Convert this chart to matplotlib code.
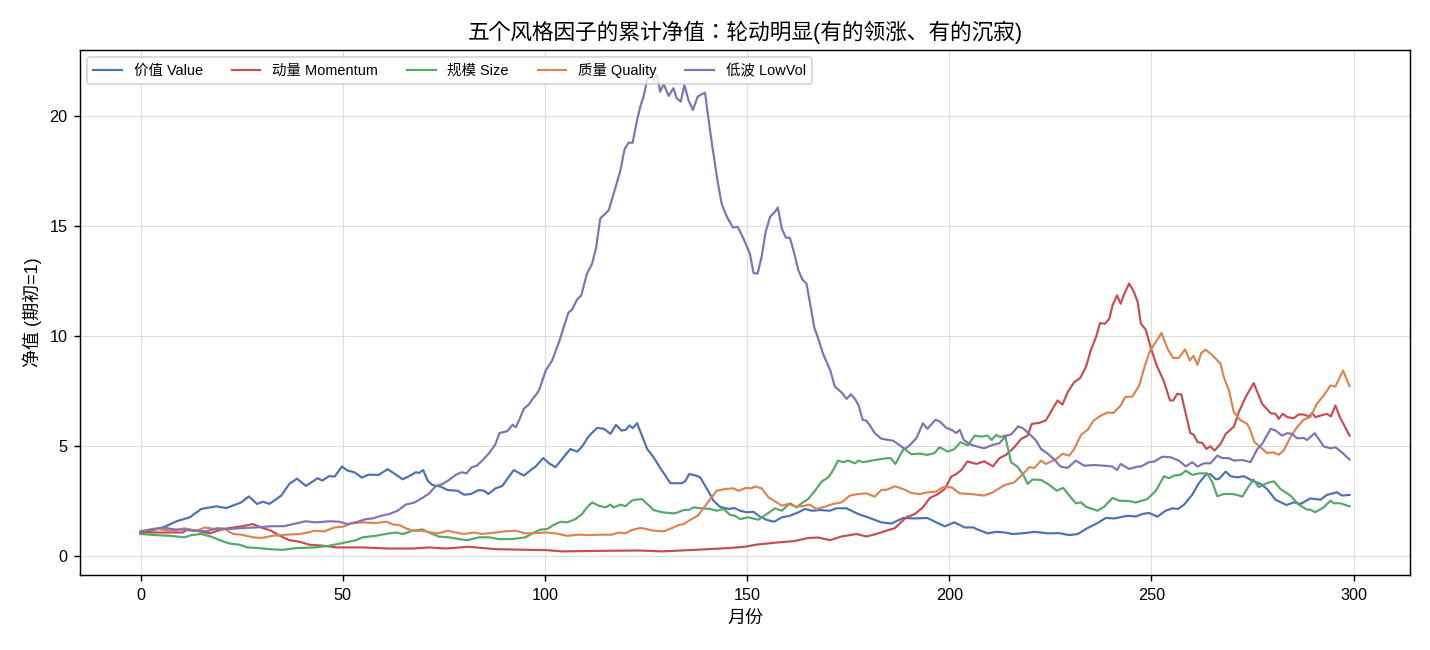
import matplotlib
matplotlib.use("Agg")
import matplotlib.pyplot as plt

plt.rcParams['font.family'] = ['Liberation Sans', 'Noto Sans CJK SC', 'DejaVu Sans']
plt.rcParams['axes.unicode_minus'] = False

title = "五个风格因子的累计净值：轮动明显(有的领涨、有的沉寂)"
xlabel = "月份"
ylabel = "净值 (期初=1)"
series_names = ["价值 Value", "动量 Momentum", "规模 Size", "质量 Quality", "低波 LowVol"]
colors = ["#4C72B0", "#C44E52", "#55A868", "#DD8452", "#8172B3"]

# (month, NAV) points
value_pts = [(0,1.0),(5.6,1.29),(8.9,1.57),(12.2,1.75),(15,2.13),(18.8,2.25),(21.2,2.17),(24.9,2.43),(26.8,2.7),(28.8,2.36),(30.3,2.46),(31.9,2.36),(34.8,2.74),(36.8,3.27),(38.7,3.51),(40.9,3.18),(43.8,3.53),(44.9,3.42),(46.7,3.63),(48,3.6),(49.8,4.06),(51.2,3.88),(52.9,3.8),(54.7,3.56),(56.4,3.69),(58.9,3.68),(61.1,3.94),(62.7,3.75),(64.8,3.48),(66.4,3.62),(68.1,3.8),(68.9,3.77),(69.9,3.9),(71,3.42),(72.2,3.22),(74.2,3.15),(75.9,2.99),(78.4,2.96),(80,2.78),(81.7,2.81),(83.7,2.99),(85,2.96),(86,2.81),(87.8,3.07),(89.5,3.18),(90.7,3.5),(92.3,3.9),(94.8,3.65),(96.5,3.9),(97.7,4.06),(99.6,4.45),(101,4.21),(102.6,4.03),(104.3,4.41),(106.3,4.86),(108,4.74),(109.2,4.97),(110.8,5.43),(112.9,5.82),(114.6,5.78),(116.2,5.55),(117.6,5.96),(118.9,5.7),(120,5.73),(120.9,5.93),(121.7,5.81),(122.8,6.03),(124,5.47),(125.3,4.86),(126.9,4.48),(128.5,4.0),(129.8,3.65),(131,3.31),(132.2,3.3),(133.9,3.3),(134.7,3.39),(135.7,3.72),(137.2,3.66),(138.4,3.57),(140.1,3.04),(141.7,2.51),(143.3,2.23),(145.4,2.13),(146.9,2.17),(148.3,2.05),(149.9,1.98),(151.6,2.0),(153.2,1.78),(154.9,1.63),(156.7,1.55),(158.6,1.75),(160.6,1.82),(162.7,1.98),(164.3,2.13),(166,2.05),(168,2.08),(170.5,2.05),(172.1,2.16),(174.6,2.16),(177.5,1.9),(179.9,1.75),(183.2,1.52),(185.7,1.47),(188.6,1.72),(191.5,1.7),(194.6,1.72),(196.8,1.52),(198.9,1.34),(201.3,1.52),(203.8,1.29),(205.9,1.29),(207.1,1.19),(209.5,1.02),(211.6,1.09),(213.7,1.06),(215.7,0.99),(218.6,1.03),(221.1,1.09),(224.4,1.02),(227.2,1.03),(229.7,0.94),(231.8,0.99),(234.2,1.26),(236.7,1.49),(238.7,1.72),(240.8,1.7),(244.1,1.82),(246.1,1.79),(247.8,1.9),(249.4,1.95),(251.5,1.78),(253.5,2.05),(255.2,2.16),(256.6,2.13),(258.1,2.33),(260.1,2.78),(261.6,3.27),(263.4,3.68),(264.6,3.72),(265.9,3.48),(266.7,3.5),(268.4,3.83),(269.6,3.62),(271.2,3.57),(272.9,3.62),(274.9,3.42),(277,3.27),(278.6,3.04),(280.7,2.55),(283.4,2.31),(285.2,2.43),(286.9,2.36),(289.3,2.61),(291.8,2.55),(293.4,2.77),(295.9,2.89),(297.1,2.74),(299,2.77)]

momentum_pts = [(0,1.06),(5.6,1.06),(10.5,1.06),(11.3,1.17),(13.8,1.14),(17.1,1.02),(19.6,1.17),(22,1.26),(24.9,1.34),(27.8,1.44),(30.3,1.26),(32.3,1.14),(34.4,0.91),(36.8,0.71),(39.3,0.64),(41.8,0.5),(45.1,0.46),(48.4,0.38),(54.9,0.38),(61.5,0.33),(67.3,0.33),(71.4,0.38),(75.5,0.33),(81.2,0.41),(87.8,0.3),(96,0.27),(100.2,0.26),(104.3,0.2),(116.6,0.23),(123.2,0.24),(129,0.2),(137.2,0.27),(145.4,0.35),(149.5,0.41),(152,0.5),(157.7,0.61),(161.8,0.67),(165.1,0.81),(167.6,0.83),(170.5,0.71),(173.4,0.88),(177.1,0.99),(179.5,0.88),(182,0.99),(184.9,1.17),(186.5,1.25),(189.4,1.75),(191.5,1.9),(193.5,2.2),(195.2,2.63),(197.2,2.81),(198.9,3.04),(200.5,3.6),(201.7,3.72),(203,3.9),(204.5,4.29),(206.7,4.18),(208.7,4.3),(210.8,4.07),(212.4,4.44),(214.1,4.6),(216.1,4.94),(217.8,5.32),(219.4,5.47),(220.4,6.0),(222.3,6.05),(223.9,6.16),(225.6,6.69),(226.8,7.07),(228,6.88),(229.3,7.45),(230.9,7.9),(232.4,8.09),(233.8,8.59),(235,9.35),(236.3,9.95),(237.3,10.59),(238.5,10.56),(239.6,10.79),(240.4,11.4),(241.5,11.85),(242.4,11.47),(243.3,11.93),(244.5,12.39),(245.7,12.0),(246.6,11.55),(247.4,10.56),(248.6,10.29),(249.8,9.5),(251.3,8.66),(253,7.98),(254.6,7.07),(255.4,7.07),(256.4,7.37),(257.4,7.34),(258.5,6.46),(259.6,5.59),(260.5,5.5),(261.4,5.17),(262.6,5.14),(263.6,4.86),(264.6,4.98),(265.6,4.79),(267.1,5.09),(268.4,5.55),(270.4,5.88),(271.6,6.53),(273.3,7.22),(275.3,7.86),(277.4,6.91),(279.5,6.49),(280.7,6.46),(281.5,6.23),(282.5,6.46),(283.6,6.31),(285.2,6.26),(286.4,6.43),(287.7,6.43),(288.9,6.34),(289.7,6.49),(290.6,6.31),(291.8,6.38),(293.4,6.46),(294.4,6.34),(295.5,6.84),(296.6,6.31),(297.5,6.0),(299,5.47)]

size_pts = [(0,0.99),(3.9,0.94),(7.2,0.91),(10.9,0.84),(12.6,0.94),(15,0.99),(17.5,0.87),(19.6,0.71),(22,0.56),(24.5,0.5),(26.5,0.38),(29,0.35),(31.9,0.3),(35.2,0.27),(38.5,0.35),(43.4,0.38),(46.7,0.46),(50,0.58),(53.3,0.71),(54.9,0.84),(58.2,0.91),(61.5,1.02),(63.2,1.06),(64.8,0.99),(67.3,1.14),(69.7,1.2),(71.8,1.02),(73.8,0.87),(76.3,0.84),(78.8,0.76),(80.8,0.71),(83.7,0.84),(86.2,0.84),(88.6,0.76),(91.9,0.76),(95.2,0.84),(96.9,1.02),(98.9,1.19),(100.6,1.22),(102.2,1.41),(103.9,1.55),(105.5,1.52),(107.6,1.67),(109.2,1.9),(110.4,2.2),(111.7,2.43),(113.3,2.28),(115,2.2),(116.2,2.33),(117,2.2),(118.7,2.33),(119.9,2.25),(121.5,2.51),(122.4,2.55),(124,2.58),(125.3,2.36),(126.9,2.08),(129,1.98),(130.6,1.95),(132.2,1.93),(134.3,2.08),(135.5,2.08),(136.8,2.2),(138.8,2.16),(140.9,2.13),(142.5,2.05),(144.2,2.13),(145.8,1.86),(147,1.82),(148.3,1.67),(150.3,1.75),(152.8,1.64),(154.9,1.9),(156.9,2.16),(158.6,2.05),(160.6,2.39),(162.3,2.2),(163.5,2.39),(165.1,2.58),(166.8,2.96),(168.4,3.37),(170.1,3.57),(171.3,3.9),(172.5,4.33),(173.8,4.26),(175,4.33),(176.7,4.21),(177.5,4.33),(178.7,4.26),(180.8,4.33),(182.4,4.38),(184.9,4.45),(185.5,4.44),(186.7,4.18),(187.8,4.56),(188.8,4.89),(190.6,4.62),(192.7,4.65),(194.6,4.59),(196.4,4.68),(197.6,4.94),(199.7,4.74),(201.3,4.86),(202.8,5.17),(204.6,5.02),(206.3,5.47),(207.9,5.42),(209.5,5.47),(210.5,5.27),(211.6,5.5),(212.6,5.4),(213.8,5.47),(215.3,4.26),(217,4.03),(218.2,3.72),(219.4,3.27),(220.6,3.47),(222.7,3.45),(224.4,3.27),(226.6,2.96),(228.2,3.09),(229.7,2.74),(231.3,2.39),(232.6,2.43),(233.8,2.23),(236.7,2.05),(238.3,2.23),(240.4,2.63),(242,2.51),(244.9,2.48),(246.1,2.42),(249,2.58),(251.1,2.96),(253.1,3.62),(254.4,3.53),(255.6,3.65),(257.2,3.68),(258.5,3.87),(260.1,3.68),(261.8,3.75),(263.8,3.75),(265.1,3.34),(266.3,2.71),(267.9,2.81),(270,2.81),(271.2,2.77),(272.5,2.69),(273.9,3.12),(275.2,3.47),(276.6,3.12),(278.6,3.31),(280.3,3.39),(281.9,3.04),(284.4,2.74),(286.4,2.33),(288.5,2.1),(289.3,2.1),(290.5,1.98),(292.6,2.2),(294.3,2.51),(295.1,2.39),(296.7,2.39),(299,2.25)]

quality_pts = [(0,1.11),(3.9,1.22),(8.1,1.14),(10.9,1.25),(13.8,1.14),(15.9,1.29),(18.3,1.22),(20.8,1.22),(22.9,0.99),(24.9,0.96),(27.8,0.84),(29.9,0.81),(32.7,0.91),(36,0.96),(39.3,0.99),(41.4,1.06),(43,1.14),(45.5,1.11),(47.9,1.29),(50,1.32),(52.1,1.47),(54.9,1.52),(58.2,1.49),(60.7,1.55),(62.7,1.41),(64,1.4),(65.6,1.25),(67.3,1.14),(69.7,1.14),(71.8,1.06),(73.8,1.02),(75.9,1.14),(78,1.06),(80,0.99),(82.5,1.06),(84.5,0.99),(87.8,1.06),(90.3,1.11),(92.8,1.14),(95.2,1.02),(97.7,1.03),(100.2,1.06),(102.6,1.02),(105.5,0.91),(108.4,0.96),(110.8,0.94),(114.1,0.96),(116.6,0.96),(118.3,1.06),(119.9,1.02),(121.5,1.17),(123.2,1.25),(124,1.26),(126.9,1.14),(129.4,1.11),(131.4,1.26),(133.1,1.4),(134.3,1.44),(135.9,1.63),(137.8,1.82),(139.5,2.23),(140.9,2.58),(142.5,2.96),(144.6,3.04),(146.6,3.07),(147.9,2.96),(149.7,3.09),(151,3.07),(152,3.15),(153.6,3.07),(155.3,2.66),(156.9,2.48),(158.6,2.28),(160.2,2.36),(161.8,2.25),(163.5,2.25),(165.5,2.33),(167.2,2.13),(169.2,2.23),(171.3,2.36),(173.4,2.43),(175.4,2.74),(177.5,2.81),(179.5,2.84),(181.6,2.69),(183.2,3.0),(184.5,3.0),(186.5,3.16),(188.6,3.04),(190.6,2.86),(192.7,2.81),(194.7,2.89),(196.8,2.92),(198.4,3.12),(200.5,3.12),(202.6,2.84),(205.4,2.81),(208.6,2.74),(210.8,2.89),(213.7,3.22),(216.1,3.34),(218.2,3.72),(219.8,4.03),(221.1,4.0),(222.7,4.33),(223.9,4.18),(226,4.36),(226.8,4.45),(228,4.64),(229.7,4.56),(230.9,4.86),(232.6,5.5),(234.2,5.73),(235.7,6.15),(237.5,6.38),(239.2,6.52),(240.6,6.5),(242.4,6.84),(243.5,7.22),(245.3,7.25),(247,7.75),(248.4,8.66),(249.7,9.35),(251.1,9.73),(252.5,10.14),(254,9.42),(255.4,9.0),(256.8,9.01),(258.3,9.39),(259.5,8.89),(260.4,9.1),(261.4,8.69),(262.3,9.22),(263.4,9.38),(265.1,9.12),(267.1,8.74),(267.9,8.13),(269.2,7.52),(270.4,6.53),(271.9,6.19),(273.7,6.0),(274.5,5.7),(275.5,5.17),(277,4.94),(278.6,4.67),(280.1,4.71),(281.5,4.6),(282.7,4.79),(284.4,5.4),(286,5.85),(287.7,6.2),(289.3,6.31),(290.9,6.91),(292.6,7.29),(294.3,7.75),(295.5,7.7),(297.4,8.43),(299,7.72)]

lowvol_pts = [(0,1.11),(3.1,1.22),(5.6,1.29),(8.3,1.2),(10.9,1.19),(13.4,1.14),(16.3,1.11),(18.8,1.25),(22,1.22),(25.3,1.26),(28.6,1.29),(31.9,1.34),(35.6,1.35),(38.5,1.47),(40.8,1.57),(43.4,1.52),(46.7,1.57),(49.2,1.55),(51.2,1.44),(53.7,1.55),(55.8,1.67),(57.4,1.7),(59.5,1.82),(61.5,1.9),(63.6,2.05),(65.6,2.33),(67.7,2.42),(69.7,2.63),(71.4,2.84),(72.9,3.15),(74.7,3.27),(76.3,3.45),(78,3.69),(79.4,3.8),(80.6,3.75),(81.9,4.03),(83.1,4.09),(84.5,4.33),(86.2,4.67),(87.7,5.05),(88.8,5.59),(90.7,5.67),(92,5.96),(92.8,5.85),(93.6,6.16),(94.8,6.69),(96,6.88),(96.9,7.12),(98.1,7.4),(98.7,7.6),(100.2,8.43),(101.8,8.89),(103.5,9.73),(105.8,11.06),(106.7,11.2),(108,11.67),(109,11.85),(110.4,12.84),(111.7,13.3),(112.7,14.06),(113.7,15.35),(115.8,15.73),(117.4,16.72),(118.7,17.55),(119.7,18.5),(120.7,18.8),(121.7,18.8),(122.8,19.83),(123.6,20.44),(124.4,20.9),(125.3,21.66),(126.1,21.84),(126.9,21.63),(127.7,21.93),(128.5,21.12),(129.4,21.47),(130.6,20.93),(131.8,21.28),(132.6,20.82),(133.6,20.67),(134.5,21.43),(135.5,20.74),(136.6,20.29),(137.8,20.9),(139.6,21.08),(140.5,19.83),(141.3,18.77),(142.3,17.55),(142.8,16.95),(143.7,16.03),(145,15.43),(146.5,14.94),(147.7,14.97),(149.3,14.36),(150.7,13.75),(151.6,12.87),(152.6,12.84),(153.6,13.6),(154.6,14.74),(155.7,15.43),(156.9,15.65),(157.6,15.85),(158.6,14.89),(159.6,14.48),(160.6,14.47),(161.7,13.75),(162.7,12.99),(163.7,12.57),(164.7,12.39),(165.6,11.47),(166.6,10.41),(167.6,9.88),(168.8,9.19),(169.7,8.81),(170.6,8.43),(171.7,7.7),(173.4,7.43),(174.6,7.14),(175.7,7.35),(176.7,7.14),(177.6,6.84),(178.6,6.19),(179.5,6.15),(180.4,5.93),(181.6,5.58),(183.2,5.33),(184.9,5.27),(186.1,5.24),(187.3,5.09),(189,4.86),(190.2,5.02),(191.9,5.36),(193.5,6.03),(194.6,5.78),(196.6,6.19),(197.6,6.12),(199.3,5.82),(200.9,5.7),(201.7,5.58),(202.6,5.73),(203.6,5.27),(205.3,5.06),(206.7,4.98),(208.6,4.89),(210.8,5.05),(212.4,5.12),(214.1,5.47),(215.3,5.52),(217,5.88),(218.2,5.81),(219.8,5.55),(221.5,5.24),(222.7,4.86),(224.4,4.64),(226,4.38),(227.5,4.06),(229.3,4.0),(231.3,4.33),(233.4,4.1),(235.9,4.13),(238.3,4.1),(240.4,4.06),(241.5,3.9),(242.4,4.18),(244.5,3.95),(246.6,4.06),(247.4,4.06),(249.4,4.26),(250.7,4.29),(252.7,4.51),(254.8,4.48),(256.8,4.33),(258.5,4.07),(260.1,4.26),(261.4,4.06),(263,4.21),(264.6,4.21),(266.3,4.56),(267.5,4.45),(269.2,4.44),(270.4,4.33),(272.5,4.36),(274.5,4.26),(276.2,4.86),(277.4,5.09),(279.5,5.78),(280.7,5.7),(282.3,5.47),(283.6,5.58),(284.8,5.55),(286,5.35),(287.7,5.36),(288.5,5.27),(290.4,5.58),(292.6,4.98),(294.3,4.89),(295.5,4.94),(297.1,4.71),(299,4.38)]

all_series = [value_pts, momentum_pts, size_pts, quality_pts, lowvol_pts]

fig = plt.figure(figsize=(11, 5), dpi=130)
ax = fig.add_axes([0.056, 0.115, 0.93, 0.808])

for pts, name, c in zip(all_series, series_names, colors):
    xs = [p[0] for p in pts]
    ys = [p[1] for p in pts]
    ax.plot(xs, ys, color=c, lw=1.2, label=name)

ax.set_title(title, fontsize=12, pad=6,
             family=['Liberation Sans', 'Noto Sans CJK JP', 'DejaVu Sans'])
ax.set_xlabel(xlabel, fontsize=10)
ax.set_ylabel(ylabel, fontsize=10)
ax.tick_params(labelsize=9)
ax.grid(True, color="#dddddd", lw=0.6)
ax.set_axisbelow(True)
ax.set_xticks([0, 50, 100, 150, 200, 250, 300])
ax.set_yticks([0, 5, 10, 15, 20])

ax.legend(loc="upper left", ncol=5, fontsize=8, frameon=True, framealpha=0.8,
          borderaxespad=0.5, handlelength=2.0, columnspacing=2.0)

fig.savefig("out.png", dpi=130)
